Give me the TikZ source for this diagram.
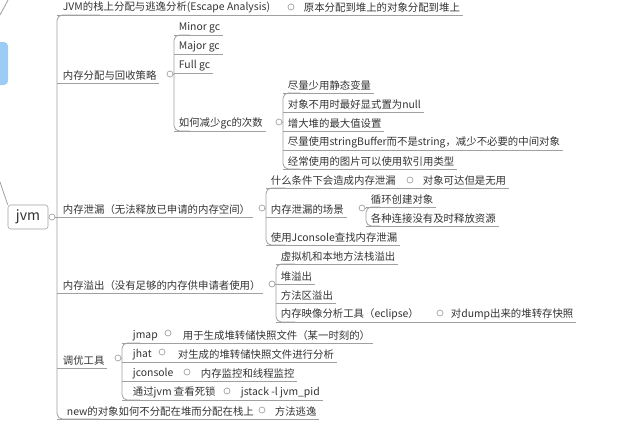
\documentclass[tikz,border=0pt]{standalone}
\usepackage{fontspec}
\newfontfamily\cjk{Noto Sans CJK SC}
\definecolor{ln}{HTML}{A0A0A0}
\definecolor{txt}{HTML}{333333}
\definecolor{blu}{HTML}{9CCBF5}
\begin{document}
\begin{tikzpicture}[x=0.75pt,y=-0.75pt,
  t/.style={anchor=south west,inner xsep=2pt,inner ysep=1.5pt,font=\cjk\fontsize{7.8}{9}\selectfont,text=txt},
  ln/.style={draw=ln,line width=0.6pt},
  dot/.style={circle,draw=ln,fill=white,line width=0.5pt,inner sep=0pt,minimum size=4.5pt}]
\useasboundingbox (0,0) rectangle (640,425);
% left decoration
\fill[blu,rounded corners=3] (-6,42) rectangle (8,85);
\coordinate (d1) at (0,15); \coordinate (d2) at (8,0);
\draw[ln] (d1) -- (d2);
\coordinate (d3) at (0,182);
% root
\node[draw=ln,fill=white,rounded corners=2,minimum width=30pt,minimum height=18pt,font=\cjk\fontsize{10.5}{12}\selectfont,text=txt] (jvm) at (28,217) {jvm};
\draw[ln] (jvm.north west) -- (d3);
\node[dot] (cj) at (52,217) {};
% main trunk
\draw[ln,rounded corners=4] (100,15) -- (57,15) -- (57,419) -- (100,419);
\draw[ln] (cj) -- (57,217);
% 1
\node[t] (a1) at (60,15) {JVM的栈上分配与逃逸分析(Escape Analysis)};
\node[dot] (ca1) at (291,7) {};
\node[t] (a1c) at (301,15) {原本分配到堆上的对象分配到堆上};
\draw[ln] (57,15) -- (a1c.south east);
% 2
\node[t] (a2) at (60,83) {内存分配与回收策略};
\draw[ln] (57,83) -- (a2.south east);
\node[dot] (ca2) at (170,74) {};
\draw[ln,rounded corners=4] (190,35) -- (174,35) -- (174,131) -- (190,131);
\draw[ln] (ca2) -- (174,74);
\node[t] (b1) at (176,35) {Minor gc}; \draw[ln] (174,35) -- (b1.south east);
\node[t] (b2) at (176,54) {Major gc}; \draw[ln] (174,54) -- (b2.south east);
\node[t] (b3) at (176,73) {Full gc}; \draw[ln] (174,73) -- (b3.south east);
\node[t] (b4) at (176,131) {如何减少gc的次数}; \draw[ln] (174,131) -- (b4.south east);
\node[dot] (cb4) at (279,122) {};
\draw[ln,rounded corners=4] (300,93) -- (283,93) -- (283,169) -- (300,169);
\draw[ln] (cb4) -- (283,122);
\node[t] (e1) at (285,93) {尽量少用静态变量}; \draw[ln] (283,93) -- (e1.south east);
\node[t] (e2) at (285,112) {对象不用时最好显式置为null}; \draw[ln] (283,112) -- (e2.south east);
\node[t] (e3) at (285,131) {增大堆的最大值设置}; \draw[ln] (283,131) -- (e3.south east);
\node[t] (e4) at (285,150) {尽量使用stringBuffer而不是string，减少不必要的中间对象}; \draw[ln] (283,150) -- (e4.south east);
\node[t] (e5) at (285,169) {经常使用的图片可以使用软引用类型}; \draw[ln] (283,169) -- (e5.south east);
% 3
\node[t] (a3) at (60,217) {内存泄漏（无法释放已申请的内存空间）};
\draw[ln] (57,217) -- (a3.south east);
\node[dot] (ca3) at (262,208) {};
\draw[ln,rounded corners=4] (285,188) -- (266,188) -- (266,245) -- (285,245);
\draw[ln] (ca3) -- (266,208);
\node[t] (f1) at (268,188) {什么条件下会造成内存泄漏};
\node[dot] (cf1) at (410,180) {};
\node[t] (f1c) at (420,188) {对象可达但是无用};
\draw[ln] (266,188) -- (f1c.south east);
\node[t] (f2) at (268,217) {内存泄漏的场景}; \draw[ln] (266,217) -- (f2.south east);
\node[dot] (cf2) at (362,208) {};
\draw[ln,rounded corners=4] (380,207) -- (366,207) -- (366,226) -- (380,226);
\draw[ln] (cf2) -- (366,208);
\node[t] (g1) at (368,207) {循环创建对象}; \draw[ln] (366,207) -- (g1.south east);
\node[t] (g2) at (368,226) {各种连接没有及时释放资源}; \draw[ln] (366,226) -- (g2.south east);
\node[t] (f3) at (268,245) {使用Jconsole查找内存泄漏}; \draw[ln] (266,245) -- (f3.south east);
% 4
\node[t] (a4) at (60,293) {内存溢出（没有足够的内存供申请者使用）};
\draw[ln] (57,293) -- (a4.south east);
\node[dot] (ca4) at (272,284) {};
\draw[ln,rounded corners=4] (295,264) -- (276,264) -- (276,322) -- (295,322);
\draw[ln] (ca4) -- (276,284);
\node[t] (h1) at (278,264) {虚拟机和本地方法栈溢出}; \draw[ln] (276,264) -- (h1.south east);
\node[t] (h2) at (278,284) {堆溢出}; \draw[ln] (276,284) -- (h2.south east);
\node[t] (h3) at (278,303) {方法区溢出}; \draw[ln] (276,303) -- (h3.south east);
\node[t] (h4) at (278,322) {内存映像分析工具（eclipse）};
\node[dot] (ch4) at (440,313) {};
\node[t] (h4c) at (448,322) {对dump出来的堆转存快照};
\draw[ln] (276,322) -- (h4c.south east);
% 5
\node[t] (a5) at (60,368) {调优工具};
\draw[ln] (57,368) -- (a5.south east);
\node[dot] (ca5) at (118,358) {};
\draw[ln,rounded corners=4] (140,343) -- (122,343) -- (122,400) -- (140,400);
\draw[ln] (ca5) -- (122,358);
\node[t] (k1) at (130,343) {jmap};
\node[dot] (ck1) at (168,333) {};
\node[t] (k1c) at (180,343) {用于生成堆转储快照文件（某一时刻的）};
\draw[ln] (122,343) -- (k1c.south east);
\node[t] (k2) at (130,362) {jhat};
\node[dot] (ck2) at (162,352) {};
\node[t] (k2c) at (175,362) {对生成的堆转储快照文件进行分析};
\draw[ln] (122,362) -- (k2c.south east);
\node[t] (k3) at (130,381) {jconsole};
\node[dot] (ck3) at (187,372) {};
\node[t] (k3c) at (198,381) {内存监控和线程监控};
\draw[ln] (122,381) -- (k3c.south east);
\node[t] (k4) at (130,400) {通过jvm 查看死锁};
\node[dot] (ck4) at (227,391) {};
\node[t] (k4c) at (238,400) {jstack -l jvm\_pid};
\draw[ln] (122,400) -- (k4c.south east);
% 6
\node[t] (a6) at (64,419) {new的对象如何不分配在堆而分配在栈上};
\node[dot] (ca6) at (262,410) {};
\node[t] (a6c) at (272,419) {方法逃逸};
\draw[ln] (57,419) -- (a6c.south east);
\end{tikzpicture}
\end{document}
